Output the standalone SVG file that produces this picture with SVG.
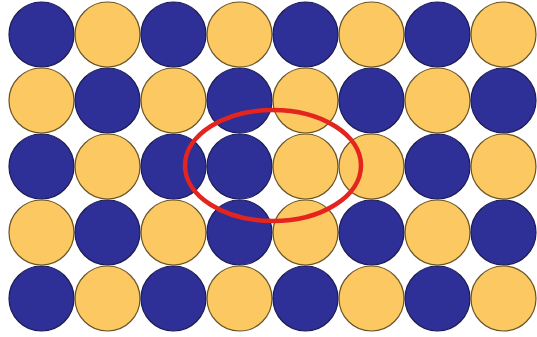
<svg xmlns="http://www.w3.org/2000/svg" width="537" height="337" viewBox="0 0 537 337">
<style>
.b{fill:#2e2f97;stroke:#1c1c55;stroke-width:1.2}
.y{fill:#fcc862;stroke:#6a5424;stroke-width:1.2}
.ring{fill:none;stroke:#e4241f;stroke-width:4.5}
</style>
<rect width="537" height="337" fill="#ffffff"/>
<g id="row1">
<g id="c1_1"><circle class="b" cx="41.5" cy="34.5" r="32.5"/></g>
<g id="c1_2"><circle class="y" cx="107.5" cy="34.5" r="32.5"/></g>
<g id="c1_3"><circle class="b" cx="173.5" cy="34.5" r="32.5"/></g>
<g id="c1_4"><circle class="y" cx="239.5" cy="34.5" r="32.5"/></g>
<g id="c1_5"><circle class="b" cx="305.5" cy="34.5" r="32.5"/></g>
<g id="c1_6"><circle class="y" cx="371.5" cy="34.5" r="32.5"/></g>
<g id="c1_7"><circle class="b" cx="437.5" cy="34.5" r="32.5"/></g>
<g id="c1_8"><circle class="y" cx="503.5" cy="34.5" r="32.5"/></g>
</g>
<g id="row2">
<g id="c2_1"><circle class="y" cx="41.5" cy="100.5" r="32.5"/></g>
<g id="c2_2"><circle class="b" cx="107.5" cy="100.5" r="32.5"/></g>
<g id="c2_3"><circle class="y" cx="173.5" cy="100.5" r="32.5"/></g>
<g id="c2_4"><circle class="b" cx="239.5" cy="100.5" r="32.5"/></g>
<g id="c2_5"><circle class="y" cx="305.5" cy="100.5" r="32.5"/></g>
<g id="c2_6"><circle class="b" cx="371.5" cy="100.5" r="32.5"/></g>
<g id="c2_7"><circle class="y" cx="437.5" cy="100.5" r="32.5"/></g>
<g id="c2_8"><circle class="b" cx="503.5" cy="100.5" r="32.5"/></g>
</g>
<g id="row3">
<g id="c3_1"><circle class="b" cx="41.5" cy="166.5" r="32.5"/></g>
<g id="c3_2"><circle class="y" cx="107.5" cy="166.5" r="32.5"/></g>
<g id="c3_3"><circle class="b" cx="173.5" cy="166.5" r="32.5"/></g>
<g id="c3_4"><circle class="b" cx="239.5" cy="166.5" r="32.5"/></g>
<g id="c3_5"><circle class="y" cx="305.5" cy="166.5" r="32.5"/></g>
<g id="c3_6"><circle class="y" cx="371.5" cy="166.5" r="32.5"/></g>
<g id="c3_7"><circle class="b" cx="437.5" cy="166.5" r="32.5"/></g>
<g id="c3_8"><circle class="y" cx="503.5" cy="166.5" r="32.5"/></g>
</g>
<g id="row4">
<g id="c4_1"><circle class="y" cx="41.5" cy="232.5" r="32.5"/></g>
<g id="c4_2"><circle class="b" cx="107.5" cy="232.5" r="32.5"/></g>
<g id="c4_3"><circle class="y" cx="173.5" cy="232.5" r="32.5"/></g>
<g id="c4_4"><circle class="b" cx="239.5" cy="232.5" r="32.5"/></g>
<g id="c4_5"><circle class="y" cx="305.5" cy="232.5" r="32.5"/></g>
<g id="c4_6"><circle class="b" cx="371.5" cy="232.5" r="32.5"/></g>
<g id="c4_7"><circle class="y" cx="437.5" cy="232.5" r="32.5"/></g>
<g id="c4_8"><circle class="b" cx="503.5" cy="232.5" r="32.5"/></g>
</g>
<g id="row5">
<g id="c5_1"><circle class="b" cx="41.5" cy="298.5" r="32.5"/></g>
<g id="c5_2"><circle class="y" cx="107.5" cy="298.5" r="32.5"/></g>
<g id="c5_3"><circle class="b" cx="173.5" cy="298.5" r="32.5"/></g>
<g id="c5_4"><circle class="y" cx="239.5" cy="298.5" r="32.5"/></g>
<g id="c5_5"><circle class="b" cx="305.5" cy="298.5" r="32.5"/></g>
<g id="c5_6"><circle class="y" cx="371.5" cy="298.5" r="32.5"/></g>
<g id="c5_7"><circle class="b" cx="437.5" cy="298.5" r="32.5"/></g>
<g id="c5_8"><circle class="y" cx="503.5" cy="298.5" r="32.5"/></g>
</g>
<g id="highlight"><ellipse class="ring" cx="273" cy="165.5" rx="88" ry="55.5"/></g>
</svg>
